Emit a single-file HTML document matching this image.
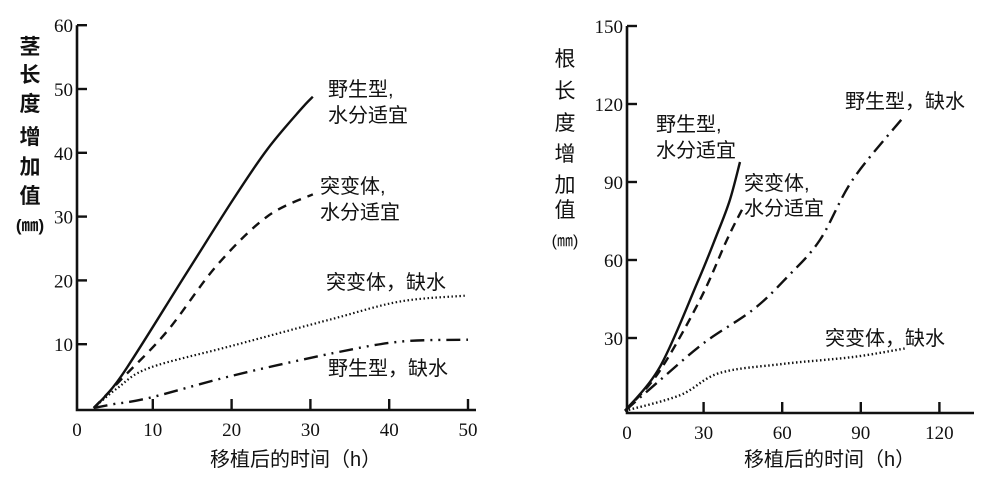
<!DOCTYPE html>
<html><head><meta charset="utf-8"><style>
body{margin:0;background:#fff;}
svg{display:block;}
text{font-family:"Liberation Serif","Noto Serif CJK SC",serif;fill:#111;}
.cjk{font-family:"Liberation Sans","Noto Sans CJK SC",sans-serif;}
</style></head><body>
<svg id="c" width="1004" height="478"></svg>
<script>
// Left chart: stem length (mm) vs time (h)
const leftXTicks=[0,10,20,30,40,50];
const leftYTicks=[10,20,30,40,50,60];
const leftWildWet=[[2.5,0],[6,5],[13.8,20.2],[20.2,32.7],[24.5,40.5],[28.7,46.7],[30.3,48.8]];
const leftMutWet=[[2.5,0],[6,4.5],[11.8,12],[18.1,22.3],[24.5,30],[30.3,33.5]];
const leftMutDry=[[2.5,0],[5.5,3.1],[9.6,6.3],[20.2,9.8],[32.9,14],[41.4,16.7],[49.6,17.6]];
const leftWildDry=[[2.5,0],[5,0.6],[9.6,1.6],[20.2,5.1],[32.9,8.6],[41.4,10.4],[50,10.7]];
// Right chart: root length (mm) vs time (h)
const rightXTicks=[0,30,60,90,120];
const rightYTicks=[30,60,90,120,150];
const rightWildWet=[[0,2],[13.4,19],[27.5,51],[35,69.6],[40,83],[43.9,97.7]];
const rightMutWet=[[0,2],[13,17],[28.6,44.6],[39,68],[45,80]];
const rightWildDry=[[0,2],[13.4,13.8],[30,28],[49,41],[62,53.5],[74.4,67.7],[87,91],[106,114.6]];
const rightMutDry=[[0,2],[21,8],[36,16.5],[60,20],[87,22.7],[107,26]];

const NS="http://www.w3.org/2000/svg";
const svg=document.getElementById('c');
function mk(tag,attrs,parent){const e=document.createElementNS(NS,tag);for(const k in attrs)e.setAttribute(k,attrs[k]);(parent||svg).appendChild(e);return e;}
function smooth(P){
  let d='M'+P[0][0].toFixed(1)+','+P[0][1].toFixed(1);
  for(let i=0;i<P.length-1;i++){
    const p0=P[i-1]||P[i],p1=P[i],p2=P[i+1],p3=P[i+2]||p2;
    const c1=[p1[0]+(p2[0]-p0[0])/6,p1[1]+(p2[1]-p0[1])/6];
    const c2=[p2[0]-(p3[0]-p1[0])/6,p2[1]-(p3[1]-p1[1])/6];
    d+=` C${c1[0].toFixed(1)},${c1[1].toFixed(1)} ${c2[0].toFixed(1)},${c2[1].toFixed(1)} ${p2[0].toFixed(1)},${p2[1].toFixed(1)}`;
  }
  return d;
}
function chart(cfg){
  const g=mk('g',{});
  
  
  const X=v=>cfg.x0+v*cfg.xs, Y=v=>cfg.y0-v*cfg.ys;
  const ax=mk('path',{d:`M${cfg.axX},${Y(cfg.yMax)} L${cfg.axX},${cfg.axY} L${cfg.axEnd},${cfg.axY}`,stroke:'#111','stroke-width':2.6,fill:'none'},g);
  
  
  cfg.yt.forEach(v=>{
    const t=mk('line',{x1:cfg.axX,x2:cfg.axX+10,y1:Y(v),y2:Y(v),stroke:'#111','stroke-width':2.4},g);
    
    
    const l=mk('text',{x:cfg.axX-4,y:Y(v)+7,'text-anchor':'end','font-size':19},g);
    l.textContent=v;
    
    
  });
  cfg.xt.forEach(v=>{
    if(v>0){const t=mk('line',{x1:X(v),x2:X(v),y1:cfg.axY,y2:cfg.axY-11,stroke:'#111','stroke-width':2.4},g);
    
    }
    const l=mk('text',{x:v===0?cfg.axX:X(v),y:cfg.axY+26,'text-anchor':'middle','font-size':19},g);
    l.textContent=v;
    
    
  });
  cfg.series.forEach(s=>{
    const d=smooth(s.pts.map(p=>[X(p[0]),Y(p[1])]));
    const p=mk('path',{d:d,stroke:'#111','stroke-width':s.w||2.4,fill:'none','stroke-dasharray':s.dash||'none','stroke-linejoin':'round'},g);
    
    
  });
}
chart({name:'stem-chart',x0:74,xs:7.88,y0:408,ys:6.38,axX:77,axY:410,axEnd:476,yMax:60,xt:leftXTicks,yt:leftYTicks,series:[
  {name:'line-wild-wet',pts:leftWildWet},
  {name:'line-mutant-wet',pts:leftMutWet,dash:'9 7'},
  {name:'line-mutant-dry',pts:leftMutDry,dash:'1.5 2.5',w:2.2},
  {name:'line-wild-dry',pts:leftWildDry,dash:'14 6 2 6 2 6'}]});
chart({name:'root-chart',x0:625,xs:2.62,y0:416,ys:2.6,axX:627,axY:413,axEnd:974,yMax:150,xt:rightXTicks,yt:rightYTicks,series:[
  {name:'line-wild-wet',pts:rightWildWet},
  {name:'line-mutant-wet',pts:rightMutWet,dash:'9 6'},
  {name:'line-mutant-dry',pts:rightMutDry,dash:'1.5 2.5',w:2.4},
  {name:'line-wild-dry',pts:rightWildDry,dash:'14 6 2 6'}]});
</script>
<svg width="1004" height="478" style="position:absolute;left:0;top:0">
<g class="cjk" font-size="20">
<text class="cjk" x="328" y="96">野生型,</text>
<text class="cjk" x="328" y="122">水分适宜</text>
<text class="cjk" x="320" y="193">突变体,</text>
<text class="cjk" x="320" y="219">水分适宜</text>
<text class="cjk" x="326" y="289">突变体，缺水</text>
<text class="cjk" x="328" y="375">野生型，缺水</text>
<text class="cjk" x="210" y="466">移植后的时间（h）</text>
<text class="cjk" x="744" y="466">移植后的时间（h）</text>
<text class="cjk" x="656" y="131">野生型,</text>
<text class="cjk" x="656" y="157">水分适宜</text>
<text class="cjk" x="744" y="190">突变体,</text>
<text class="cjk" x="744" y="215">水分适宜</text>
<text class="cjk" x="845" y="108">野生型，缺水</text>
<text class="cjk" x="825" y="345">突变体，缺水</text>
</g>
<g class="cjk" font-size="21" font-weight="bold" text-anchor="middle">
<text class="cjk" x="30" y="54">茎</text><text class="cjk" x="30" y="82">长</text><text class="cjk" x="30" y="111">度</text><text class="cjk" x="30" y="144">增</text><text class="cjk" x="30" y="174">加</text><text class="cjk" x="30" y="203">值</text><text class="cjk" x="30" y="231" font-size="17">(㎜)</text>
</g>
<g class="cjk" font-size="21" text-anchor="middle">
<text class="cjk" x="565" y="66">根</text><text class="cjk" x="565" y="98">长</text><text class="cjk" x="565" y="130">度</text><text class="cjk" x="565" y="161">增</text><text class="cjk" x="565" y="192">加</text><text class="cjk" x="565" y="217">值</text><text class="cjk" x="565" y="246" font-size="16">(㎜)</text>
</g>
</svg>
</body></html>
